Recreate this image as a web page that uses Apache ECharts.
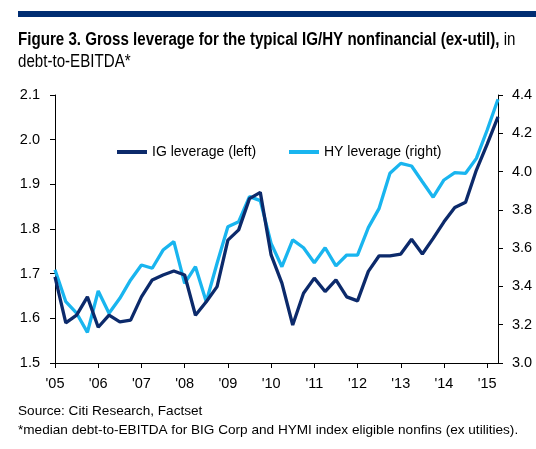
<!DOCTYPE html>
<html><head><meta charset="utf-8">
<script src="https://cdn.jsdelivr.net/npm/echarts@6/dist/echarts.min.js"></script>
<style>html,body{margin:0;padding:0;background:#fff}#c{width:536px;height:449px}</style>
</head><body><div id="c"></div>
<script>
var categories = ["2005Q1","2005Q2","2005Q3","2005Q4","2006Q1","2006Q2","2006Q3","2006Q4",
"2007Q1","2007Q2","2007Q3","2007Q4","2008Q1","2008Q2","2008Q3","2008Q4",
"2009Q1","2009Q2","2009Q3","2009Q4","2010Q1","2010Q2","2010Q3","2010Q4",
"2011Q1","2011Q2","2011Q3","2011Q4","2012Q1","2012Q2","2012Q3","2012Q4",
"2013Q1","2013Q2","2013Q3","2013Q4","2014Q1","2014Q2","2014Q3","2014Q4",
"2015Q1","2015Q2"];
var yearLabels = ["'05","'06","'07","'08","'09","'10","'11","'12","'13","'14","'15"];
var igLeverage = [1.693,1.59,1.607,1.648,1.58,1.607,1.592,1.596,1.648,1.686,1.697,1.706,
1.697,1.607,1.637,1.671,1.775,1.798,1.868,1.882,1.742,1.679,1.585,1.656,
1.69,1.66,1.686,1.648,1.639,1.705,1.74,1.74,1.744,1.777,1.744,1.779,
1.816,1.848,1.86,1.932,1.99,2.051];
var hyLeverage = [3.487,3.32,3.26,3.16,3.376,3.26,3.338,3.434,3.512,3.495,3.59,3.634,
3.416,3.503,3.32,3.521,3.712,3.738,3.869,3.848,3.625,3.503,3.643,3.602,
3.524,3.602,3.507,3.564,3.564,3.707,3.808,3.991,4.043,4.029,3.947,3.866,
3.956,3.994,3.991,4.069,4.217,4.378];
var leftTicks = {min:1.5, max:2.1, interval:0.1};
var rightTicks = {min:3.0, max:4.4, interval:0.2};
var titleBold = 'Figure 3. Gross leverage for the typical IG/HY nonfinancial (ex-util),';
var titleRest = ' in';
var titleLine2 = 'debt-to-EBITDA*';
var sourceText = 'Source: Citi Research, Factset';
var noteText = '*median debt-to-EBITDA for BIG Corp and HYMI index eligible nonfins (ex utilities).';

var chart = echarts.init(document.getElementById('c'), null, {renderer:'canvas'});
var F = "'Liberation Sans', Arial, sans-serif";
chart.setOption({
  animation:false,
  textStyle:{fontFamily:F},
  graphic:[
    {type:'rect', shape:{x:18,y:11,width:518,height:6}, style:{fill:'#002d72'}},
    {type:'text', x:18, y:40, scaleX:0.84, scaleY:1,
     style:{text:'{b|'+titleBold+'}{r|'+titleRest+'}', x:0, y:0, verticalAlign:'middle', textVerticalAlign:'middle',
       rich:{b:{fontFamily:F, fontWeight:'bold', fontSize:18, fill:'#000', color:'#000'},
             r:{fontFamily:F, fontWeight:'normal', fontSize:18, fill:'#000', color:'#000'}}}},
    {type:'text', x:18, y:62, scaleX:0.84, scaleY:1,
     style:{text:titleLine2, x:0, y:0, font:'18px '+F, fill:'#000', verticalAlign:'middle', textVerticalAlign:'middle'}},
    {type:'text', left:18, top:404, style:{text:sourceText, font:'13.6px '+F, fill:'#000'}},
    {type:'text', left:18, top:423, style:{text:noteText, font:'13.6px '+F, fill:'#000'}}
  ],
  legend:[
    {data:['IG leverage (left)'], left:117, top:145, padding:0, icon:'rect', itemWidth:30, itemHeight:4,
     textStyle:{fontSize:14, color:'#000', fontFamily:F}},
    {data:['HY leverage (right)'], left:289, top:145, padding:0, icon:'rect', itemWidth:30, itemHeight:4,
     textStyle:{fontSize:14, color:'#000', fontFamily:F}}
  ],
  grid:{left:55, right:38, top:95, bottom:86},
  xAxis:{
    type:'category', data:categories, boundaryGap:false,
    axisLine:{lineStyle:{color:'#000', width:1}},
    axisTick:{show:true, length:5, lineStyle:{color:'#000'}, interval:function(i){return i%4===0;}},
    axisLabel:{color:'#000', fontSize:14.5, margin:13, fontFamily:F,
      interval:function(i){return i%4===0;},
      formatter:function(v,i){return yearLabels[Math.floor(i/4)];}},
    splitLine:{show:false}
  },
  yAxis:[
    {type:'value', min:leftTicks.min, max:leftTicks.max, interval:leftTicks.interval, position:'left',
     axisLine:{show:true, lineStyle:{color:'#000'}}, axisTick:{show:true, length:5, lineStyle:{color:'#000'}},
     axisLabel:{color:'#000', fontSize:14.5, margin:15, formatter:function(v){return v.toFixed(1);}},
     splitLine:{show:false}},
    {type:'value', min:rightTicks.min, max:rightTicks.max, interval:rightTicks.interval, position:'right',
     axisLine:{show:true, lineStyle:{color:'#000'}}, axisTick:{show:true, length:5, lineStyle:{color:'#000'}},
     axisLabel:{color:'#000', fontSize:14.5, margin:14, formatter:function(v){return v.toFixed(1);}},
     splitLine:{show:false}}
  ],
  series:[
    {name:'HY leverage (right)', type:'line', yAxisIndex:1, data:hyLeverage, symbol:'none',
     lineStyle:{color:'#19b5ef', width:3.3}, itemStyle:{color:'#19b5ef'}, z:2},
    {name:'IG leverage (left)', type:'line', yAxisIndex:0, data:igLeverage, symbol:'none',
     lineStyle:{color:'#0c2a6b', width:3.3}, itemStyle:{color:'#0c2a6b'}, z:3}
  ]
});
</script></body></html>
